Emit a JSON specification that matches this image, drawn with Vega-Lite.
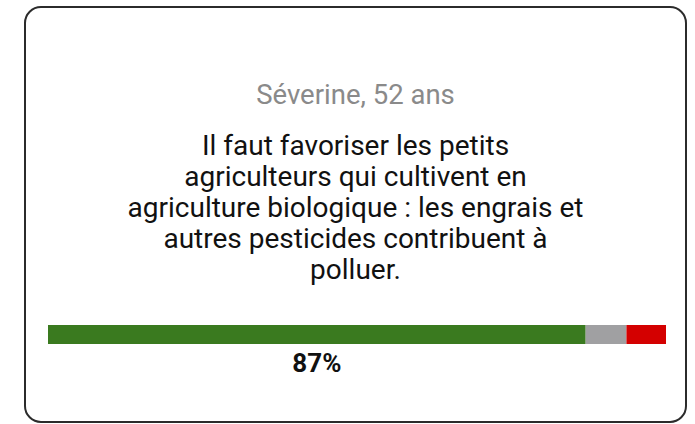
{
  "$schema": "https://vega.github.io/schema/vega-lite/v6.json",
  "width": 661,
  "height": 415,
  "autosize": {"type": "none"},
  "padding": {"left": 25, "top": 7, "right": 9, "bottom": 2},
  "background": "white",
  "config": {
    "view": {"stroke": "#2b2b2b", "strokeWidth": 2, "cornerRadius": 16},
    "font": "Roboto"
  },
  "title": {
    "text": "Séverine, 52 ans",
    "subtitle": [
      "Il faut favoriser les petits",
      "agriculteurs qui cultivent en",
      "agriculture biologique : les engrais et",
      "autres pesticides contribuent à",
      "polluer."
    ],
    "anchor": "middle",
    "frame": "group",
    "orient": "top",
    "offset": -278,
    "font": "Roboto",
    "fontSize": 27.5,
    "fontWeight": "normal",
    "color": "#8a8a8a",
    "subtitleFont": "Roboto",
    "subtitleFontSize": 28,
    "subtitleColor": "#111111",
    "subtitleLineHeight": 31,
    "subtitlePadding": 24
  },
  "data": {
    "values": [
      {"question": "Séverine, 52 ans", "opinion": "Pour", "rank": 1, "share": 0.87},
      {"question": "Séverine, 52 ans", "opinion": "Sans avis", "rank": 2, "share": 0.066},
      {"question": "Séverine, 52 ans", "opinion": "Contre", "rank": 3, "share": 0.064}
    ]
  },
  "layer": [
    {
      "mark": {"type": "bar"},
      "encoding": {
        "x": {
          "field": "share",
          "type": "quantitative",
          "stack": "zero",
          "scale": {"domain": [0, 1], "range": [23, 641], "nice": false, "zero": true},
          "axis": null
        },
        "y": {
          "field": "question",
          "type": "nominal",
          "scale": {"range": [318, 337], "paddingInner": 0, "paddingOuter": 0},
          "axis": null
        },
        "color": {
          "field": "opinion",
          "type": "nominal",
          "scale": {"domain": ["Pour", "Sans avis", "Contre"], "range": ["#3a7a1f", "#a0a0a2", "#d40000"]},
          "legend": null
        },
        "order": {"field": "rank", "type": "quantitative", "sort": "ascending"}
      }
    },
    {
      "transform": [{"filter": "datum.opinion === 'Pour'"}],
      "mark": {
        "type": "text",
        "font": "Roboto",
        "fontSize": 26,
        "fontWeight": "bold",
        "color": "#111111",
        "baseline": "alphabetic",
        "align": "center",
        "dy": 37.5
      },
      "encoding": {
        "x": {
          "field": "share",
          "type": "quantitative",
          "scale": {"domain": [0, 1], "range": [23, 332], "nice": false},
          "axis": null
        },
        "y": {
          "field": "question",
          "type": "nominal",
          "axis": null
        },
        "text": {"field": "share", "type": "quantitative", "format": ".0%"}
      }
    }
  ],
  "resolve": {"scale": {"x": "independent"}}
}
